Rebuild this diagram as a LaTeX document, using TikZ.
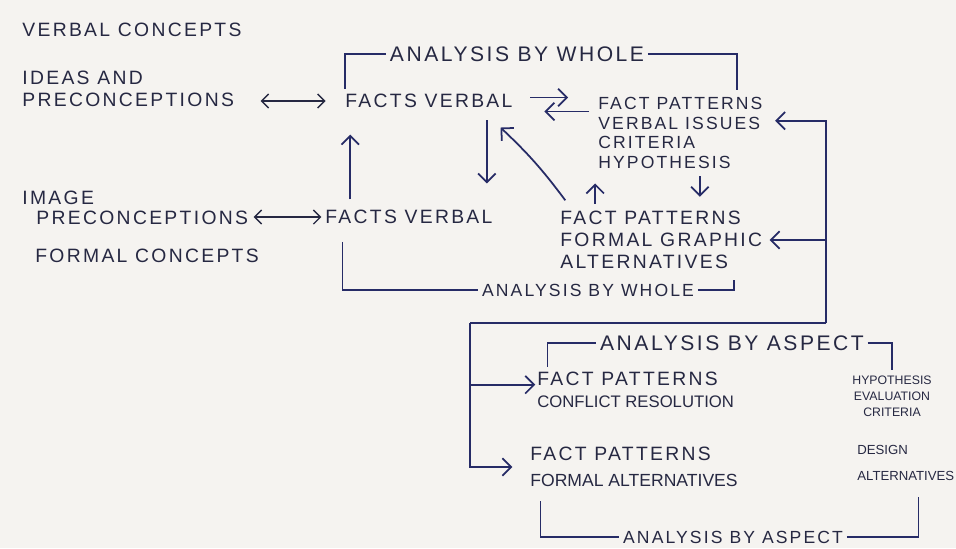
\documentclass[tikz,border=0pt]{standalone}
\usepackage{fontspec}
\newfontfamily\handwide[LetterSpace=12]{Liberation Sans}
\newfontfamily\handtight{Liberation Sans}
\usetikzlibrary{arrows.meta}

\definecolor{paper}{RGB}{245,243,240}
\definecolor{ink}{RGB}{38,40,66}
\definecolor{pen}{RGB}{38,43,102}

\newcommand*{\busx}{826}
\newcommand*{\busy}{323}
\newcommand*{\busl}{470}

\begin{document}
\begin{tikzpicture}
[
	x=0.02cm, y=-0.02cm,
	txt/.style={anchor=west,align=left,inner sep=0pt,text=ink,font=\handwide\fontsize{11}{12.5}\selectfont},
	smalltxt/.style={align=center,inner sep=0pt,text=ink,font=\handtight\fontsize{7}{9}\selectfont},
	brlbl/.style={inner sep=2pt,text=ink,font=\handwide\fontsize{12}{14}\selectfont},
	wire/.style={pen,line width=1pt},
	arr/.style={wire,-{Straight Barb[length=5pt,width=10pt]}},
	dblarr/.style={ink,line width=0.8pt,{Straight Barb[length=4pt,width=8pt]}-{Straight Barb[length=4pt,width=8pt]}}
]

	% paper
	\fill[paper] (0,0) rectangle (956,548);
	\useasboundingbox (0,0) rectangle (956,548);

	% left column
	\node[txt] (verbal) at (22,30) {VERBAL CONCEPTS};
	\node[txt] (ideas) at (22,89) {IDEAS AND\\PRECONCEPTIONS};
	\node[txt,font=\handwide\fontsize{11}{11}\selectfont] (image) at (22,208) {IMAGE\\\hspace*{8pt}PRECONCEPTIONS};
	\node[txt] (formal) at (35,256) {FORMAL CONCEPTS};

	% whole analysis
	\node[txt] (factsA) at (345,101) {FACTS VERBAL};
	\node[txt] (factsB) at (325,217) {FACTS VERBAL};
	\node[txt,font=\handwide\fontsize{10}{11.3}\selectfont] (patA) at (598,133)
	  {FACT PATTERNS\\VERBAL ISSUES\\CRITERIA\\HYPOTHESIS};
	\node[txt] (patB) at (560,240) {FACT PATTERNS\\FORMAL GRAPHIC\\ALTERNATIVES};
	\node[brlbl] (wholeA) at (517,54) {ANALYSIS BY WHOLE};
	\node[brlbl,font=\handwide\fontsize{10}{12}\selectfont] (wholeB) at (588,290) {ANALYSIS BY WHOLE};

	% aspect analysis
	\node[txt] (patC) at (537,390)
	  {FACT PATTERNS\\{\handtight\fontsize{9.5}{11}\selectfont CONFLICT RESOLUTION}};
	\node[smalltxt] (hypo) at (892,396) {HYPOTHESIS\\EVALUATION\\CRITERIA};
	\node[txt,font=\handwide\fontsize{11}{15}\selectfont] (patD) at (530,467)
	  {FACT PATTERNS\\{\handtight\fontsize{10}{15}\selectfont FORMAL ALTERNATIVES}};
	\node[smalltxt,anchor=west,align=left,font=\handtight\fontsize{7.5}{15}\selectfont] (design) at (857,463)
	  {DESIGN\\ALTERNATIVES};
	\node[brlbl] (aspectA) at (732,343) {ANALYSIS BY ASPECT};
	\node[brlbl,font=\handwide\fontsize{10}{12}\selectfont] (aspectB) at (733,537) {ANALYSIS BY ASPECT};

	% two-way links
	\draw[dblarr,shorten <=15pt,shorten >=11pt] (ideas.east |- factsA.west) -- (factsA.west);
	\draw[dblarr,shorten <=3pt,shorten >=2pt] (image.east |- factsB.west) -- (factsB.west);
	\draw[arr,shorten <=10pt,shorten >=17pt] ([yshift=2pt]factsA.east) -- ([yshift=2pt]factsA.east -| patA.west);
	\draw[arr,shorten <=5pt,shorten >=18pt] ([yshift=-6pt]factsA.east -| patA.west) -- ([yshift=-6pt]factsA.east);

	% verticals
	\draw[arr,shorten <=6pt,shorten >=15pt] ([xshift=3pt]factsA.south west |- factsB.north) -- ([xshift=3pt]factsA.south west);
	\draw[arr,shorten <=7pt,shorten >=15pt] ([xshift=33pt]factsA.south) -- ([xshift=33pt]factsA.south |- factsB.north);
	\draw[arr] ([shift={(3pt,6pt)}]patB.north west) to[bend right=5] ([shift={(-7pt,-11pt)}]factsA.south east);
	\draw[arr,shorten <=4pt,shorten >=8pt] ([xshift=20pt]patB.north west) -- ([xshift=20pt]patB.north west |- patA.south);
	\draw[arr,shorten <=4pt,shorten >=8pt] ([xshift=58pt]patA.south west) -- ([xshift=58pt]patA.south west |- patB.north);

	% brackets
	\draw[wire] ([yshift=3pt]factsA.north west) |- (wholeA.west);
	\draw[wire] (wholeA.east) -| ([shift={(79pt,4pt)}]patA.north west);
	\draw[wire] ([shift={(10pt,-10pt)}]factsB.south west) |- (wholeB.west);
	\draw[wire] (wholeB.east) -| ([shift={(99pt,-6pt)}]patB.south west);
	\draw[wire] ([shift={(6pt,3pt)}]patC.north west) |- (aspectA.west);
	\draw[wire] (aspectA.east) -| ([yshift=3pt]hypo.north);
	\draw[wire] ([shift={(6pt,-8pt)}]patD.south west) |- (aspectB.west);
	\draw[wire] (aspectB.east) -| ([shift={(35pt,-9pt)}]design.south west);

	% feedback bus
	\coordinate (busR) at (\busx,\busy);
	\coordinate (busL) at (\busl,\busy);
	\draw[arr] (busR) |- ([shift={(7pt,7pt)}]patA.east);
	\draw[arr] (busR |- patB.east) -- ([xshift=4pt]patB.east);
	\draw[wire] (busR) -- (busL);
	\draw[arr] (busL) |- ([xshift=-10pt]patD.west);
	\draw[arr] ([yshift=3pt]patC.west -| busL) -- ([shift={(-1pt,3pt)}]patC.west);

\end{tikzpicture}
\end{document}
